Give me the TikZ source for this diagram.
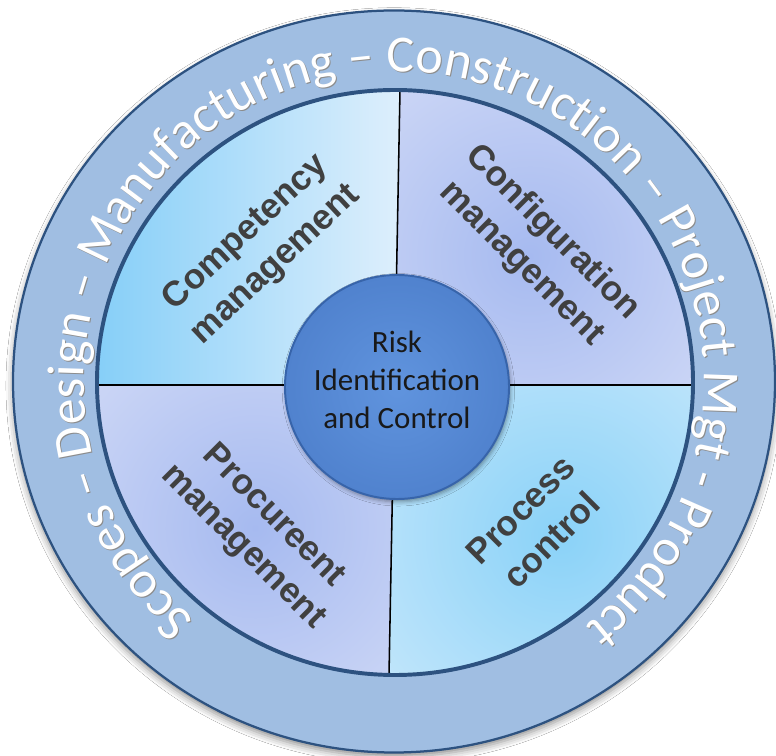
\documentclass[tikz,border=0pt]{standalone}
\usepackage{fontspec}
\setmainfont{Carlito}
\newfontfamily\quadfont{Liberation Sans}
\newfontfamily\ringfont{Carlito}
\usetikzlibrary{decorations.text,shadows.blur}
\definecolor{ringfill}{RGB}{160,190,226}
\definecolor{ringedge}{RGB}{45,82,128}
\definecolor{tlA}{RGB}{132,206,248}
\definecolor{tlB}{RGB}{222,239,252}
\definecolor{lavA}{RGB}{166,186,240}
\definecolor{lavB}{RGB}{228,232,249}
\definecolor{brA}{RGB}{138,210,248}
\definecolor{brB}{RGB}{220,239,252}
\definecolor{hubA}{RGB}{96,148,222}
\definecolor{hubB}{RGB}{80,130,206}
\definecolor{hubedge}{RGB}{55,100,170}
\definecolor{quadtext}{RGB}{64,64,64}
\tikzset{
  quadlabel/.style={font=\quadfont\bfseries\fontsize{25}{31}\selectfont, text=quadtext, align=center, inner sep=0pt},
  hublabel/.style={font=\fontsize{22}{27}\selectfont, text=black!90, align=center, inner sep=0pt},
  divider/.style={line width=1.1pt, black},
  edgeline/.style={draw=ringedge},
}
\begin{document}
\begin{tikzpicture}[x=0.025cm,y=0.025cm]
\useasboundingbox (0,0) rectangle (776,756);
\fill[white] (0,0) rectangle (776,756);
\coordinate (oc) at (394,374.5);
\coordinate (ic) at (395,373.5);
% outer ring
\fill[ringfill, blur shadow={shadow xshift=0pt, shadow yshift=-3pt, shadow blur radius=5pt, shadow opacity=45}]
  (oc) ellipse [x radius=381, y radius=371];
\draw[edgeline, line width=1.6pt] (oc) ellipse [x radius=381, y radius=371];
% quadrant coordinates
\coordinate (vt) at (401.7,756);
\coordinate (vc) at (394.45,371);
\coordinate (vb) at (387.5,0);
\coordinate (hl) at (97,371);
\coordinate (hr) at (693,371);
\coordinate (vtop) at (400,666);
\coordinate (vbot) at (389,81);
\begin{scope}
  \clip (ic) ellipse [x radius=298, y radius=292.5];
  % top-left
  \shade[left color=tlA, right color=tlB] (90,371) -- (vc) -- (vt) -- (90,756) -- cycle;
  % top-right
  \begin{scope}
    \clip (vc) -- (vt) -- (700,756) -- (700,371) -- cycle;
    \fill[lavB] (vc) -- (vt) -- (700,756) -- (700,371) -- cycle;
    \shade[inner color=lavA, outer color=lavB] (530,500) circle [radius=360];
  \end{scope}
  % bottom-left
  \begin{scope}
    \clip (90,371) -- (vc) -- (vb) -- (90,0) -- cycle;
    \fill[lavB] (90,371) -- (vc) -- (vb) -- (90,0) -- cycle;
    \shade[inner color=lavA, outer color=lavB] (255,228) circle [radius=360];
  \end{scope}
  % bottom-right
  \begin{scope}
    \clip (vc) -- (vb) -- (700,0) -- (700,371) -- cycle;
    \fill[brB] (vc) -- (vb) -- (700,0) -- (700,371) -- cycle;
    \shade[inner color=brA, outer color=brB] (560,220) circle [radius=340];
  \end{scope}
\end{scope}
\draw[divider] (hl) -- (hr);
\draw[divider] (vtop) -- (vbot);
\draw[edgeline, line width=2.8pt] (ic) ellipse [x radius=298, y radius=292.5];
% ring text (shadow + text)
\begin{scope}[shift={(oc)}, xshift=0.7pt, yshift=-0.7pt]
\path[decorate, decoration={text along path, text align=center,
  text={|\ringfont\fontsize{37}{37}\selectfont\color{black!45}|Scopes – Design – Manufacturing – Construction – Project Mgt - Product}}]
  (234:310) arc [start angle=234, end angle=-56, radius=310];
\end{scope}
\begin{scope}[shift={(oc)}]
\path[decorate, decoration={text along path, text align=center,
  text={|\ringfont\fontsize{37}{37}\selectfont\color{white}|Scopes – Design – Manufacturing – Construction – Project Mgt - Product}}]
  (234:310) arc [start angle=234, end angle=-56, radius=310];
\end{scope}
% hub
\node[circle, inner color=hubA, outer color=hubB, draw=hubedge, line width=1.4pt, minimum size=5.6cm, inner sep=0pt,
  blur shadow={shadow xshift=1pt, shadow yshift=-2pt, shadow blur radius=3pt, shadow opacity=40}] (hub) at (397,369) {};
\node[hublabel] (hubtext) at (397,376) {Risk\\Identification\\and Control};
% quadrant labels
\node[quadlabel, rotate=43] (comp) at (261,507) {Competency\\management};
\node[quadlabel, rotate=-45] (conf) at (537,508) {Configuration\\management};
\node[quadlabel, rotate=-45] (proc) at (258,224) {Procureent\\management};
\node[quadlabel, rotate=45] (pctl) at (536,231) {Process\\control};
\end{tikzpicture}
\end{document}
